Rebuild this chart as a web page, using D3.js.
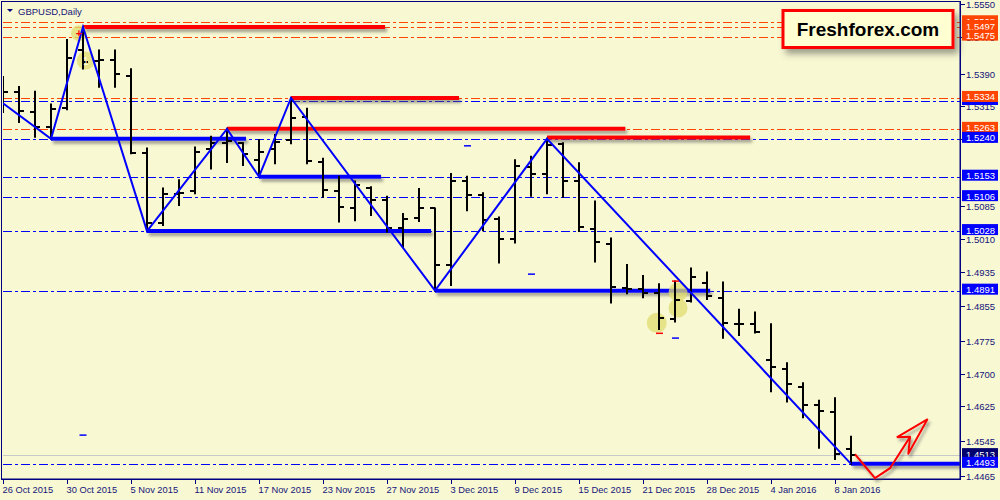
<!DOCTYPE html>
<html><head><meta charset="utf-8">
<script src="https://cdn.jsdelivr.net/npm/d3@7"></script>
<style>
html,body{margin:0;padding:0;background:#f8f8d2;}
svg{display:block;font-family:"Liberation Sans",Arial,sans-serif;}
</style></head>
<body><svg id="c" width="1000" height="500"></svg>
<script>
// ---------- DATA ----------
const dates = ["26 Oct 2015","27 Oct 2015","28 Oct 2015","29 Oct 2015","30 Oct 2015","2 Nov 2015","3 Nov 2015","4 Nov 2015","5 Nov 2015","6 Nov 2015","9 Nov 2015","10 Nov 2015","11 Nov 2015","12 Nov 2015","13 Nov 2015","16 Nov 2015","17 Nov 2015","18 Nov 2015","19 Nov 2015","20 Nov 2015","23 Nov 2015","24 Nov 2015","25 Nov 2015","26 Nov 2015","27 Nov 2015","30 Nov 2015","1 Dec 2015","2 Dec 2015","3 Dec 2015","4 Dec 2015","7 Dec 2015","8 Dec 2015","9 Dec 2015","10 Dec 2015","11 Dec 2015","14 Dec 2015","15 Dec 2015","16 Dec 2015","17 Dec 2015","18 Dec 2015","21 Dec 2015","22 Dec 2015","23 Dec 2015","24 Dec 2015","28 Dec 2015","29 Dec 2015","30 Dec 2015","31 Dec 2015","4 Jan 2016","5 Jan 2016","6 Jan 2016","7 Jan 2016","8 Jan 2016","11 Jan 2016"];
const open  = [1.5364,1.5348,1.5302,1.5267,1.5310,1.5444,1.5420,1.5421,1.5385,1.5207,1.5046,1.5113,1.5121,1.5216,1.5231,1.5230,1.5191,1.5217,1.5237,1.5291,1.5186,1.5121,1.5082,1.5126,1.5099,1.5034,1.5059,1.5080,1.4950,1.5143,1.5111,1.5055,1.5010,1.5176,1.5159,1.5228,1.5143,1.5033,1.4998,1.4898,1.4896,1.4885,1.4827,1.4868,1.4908,1.4875,1.4814,1.4814,1.4732,1.4711,1.4669,1.4628,1.4613,1.4527];
const high  = [1.5382,1.5359,1.5348,1.5319,1.5467,1.5497,1.5443,1.5443,1.5400,1.5218,1.5126,1.5145,1.5220,1.5245,1.5263,1.5230,1.5237,1.5249,1.5334,1.5309,1.5194,1.5153,1.5142,1.5129,1.5107,1.5067,1.5125,1.5080,1.5159,1.5153,1.5115,1.5059,1.5191,1.5199,1.5240,1.5230,1.5184,1.5096,1.5011,1.4950,1.4925,1.4906,1.4912,1.4942,1.4933,1.4910,1.4847,1.4841,1.4814,1.4724,1.4678,1.4638,1.4644,1.4555];
const low   = [1.5302,1.5279,1.5245,1.5240,1.5308,1.5402,1.5360,1.5360,1.5207,1.5028,1.5042,1.5088,1.5115,1.5172,1.5187,1.5180,1.5153,1.5184,1.5230,1.5184,1.5107,1.5050,1.5053,1.5065,1.5027,1.4992,1.5051,1.4891,1.4904,1.5076,1.5030,1.4956,1.5002,1.5109,1.5115,1.5107,1.5028,1.4958,1.4864,1.4885,1.4876,1.4803,1.4820,1.4866,1.4872,1.4783,1.4789,1.4795,1.4660,1.4636,1.4600,1.4530,1.4504,1.4493];
const close = [1.5348,1.5305,1.5268,1.5308,1.5425,1.5417,1.5421,1.5389,1.5208,1.5046,1.5113,1.5116,1.5210,1.5231,1.5235,1.5205,1.5210,1.5233,1.5289,1.5189,1.5122,1.5084,1.5134,1.5099,1.5034,1.5055,1.5080,1.4950,1.5142,1.5111,1.5053,1.5009,1.5178,1.5159,1.5227,1.5142,1.5038,1.5004,1.4900,1.4895,1.4886,1.4829,1.4870,1.4923,1.4879,1.4817,1.4815,1.4797,1.4716,1.4676,1.4628,1.4615,1.4515,1.4513];

const dateTickIdx = [0,4,8,12,16,20,24,28,32,36,40,44,48,52];
const priceTicks = [1.5550,1.5475,1.5390,1.5315,1.5240,1.5085,1.5010,1.4935,1.4855,1.4775,1.4700,1.4625,1.4545,1.4465];

// zigzag vertices [bar index, price]
const zigzag = [[0,1.5322],[3,1.5240],[5,1.5497],[9,1.5028],[14,1.5263],[16,1.5153],[18,1.5334],[27,1.4891],[34,1.5240],[53,1.4493]];
// thick level segments [from index, to index, price]
const redLevels  = [[5,23.88,1.5497],[18,28.5,1.5334],[14,38.9,1.5263],[34,46.7,1.5243]];
const blueLevels = [[3,15.19,1.5240],[16,23.63,1.5153],[9,26.75,1.5028],[27,44.2,1.4891],[53,59.8,1.4493]];
// horizontal dash-dot levels
const orangeLines = [1.5508,1.5497,1.5475,1.5334,1.5263];
const blueLines   = [1.5327,1.5240,1.5153,1.5106,1.5028,1.4891,1.4493];
const bidPrice = 1.4513;
// price label boxes in draw order [price, kind, label]
const labelBoxes = [[1.5508,"o","1.5508"],[1.5497,"o","1.5497"],[1.5475,"o","1.5475"],[1.5327,"b",""],[1.5334,"o","1.5334"],[1.5263,"o","1.5263"],[1.5240,"b","1.5240"],[1.5153,"b","1.5153"],[1.5106,"b","1.5106"],[1.5028,"b","1.5028"],[1.4891,"b","1.4891"],[1.4513,"n","1.4513"],[1.4493,"b","1.4493"]];
// highlight circles [index, price, radius]
const circles = [[4.75,1.5483,8],[5.17,1.5420,9],[40.86,1.4817,10],[42.19,1.4888,9.5],[42.19,1.4851,9.5]];
// small order marks [index, price, colour]
const marks = [[29.03,1.5224,"b"],[33.03,1.4929,"b"],[5,1.4559,"b"],[42.03,1.4782,"b"],[41.03,1.4793,"r"],[42.03,1.4913,"r"]];
// hand-drawn arrow [index, price]
const arrowShaft = [[53.25,1.4515],[54.5,1.4460],[55.44,1.4483],[56.69,1.4555]];
const arrowHead  = [[55.86,1.4554],[57.77,1.4595],[56.58,1.4516],[56.69,1.4555],[55.86,1.4554]];

// ---------- CHART ----------
const svg = d3.select("#c");
const L=3, R=960, T=4, B=476, AX=479;
const x = d3.scaleLinear().domain([0,(R-L)/16]).range([L,R]);
const y = d3.scaleLinear().domain([1.4465,1.5550]).range([B,T]);
const navy = "#000080", txt="#14147a";

const defs = svg.append("defs");
const f = defs.append("filter").attr("id","sh").attr("filterUnits","userSpaceOnUse")
  .attr("x",0).attr("y",0).attr("width",1000).attr("height",500);
f.append("feDropShadow").attr("dx",2).attr("dy",3).attr("stdDeviation",1.6).attr("flood-color","#555").attr("flood-opacity",0.55);
const f2 = defs.append("filter").attr("id","sh2").attr("filterUnits","userSpaceOnUse")
  .attr("x",0).attr("y",0).attr("width",1000).attr("height",500);
f2.append("feDropShadow").attr("dx",4).attr("dy",5).attr("stdDeviation",3).attr("flood-color","#444").attr("flood-opacity",0.5);
defs.append("clipPath").attr("id","clip").append("rect").attr("x",L).attr("y",2).attr("width",R-L).attr("height",AX-2);

svg.append("rect").attr("width",1000).attr("height",500).attr("fill","#f8f8d2");

const g = svg.append("g").attr("clip-path","url(#clip)");

// dash-dot levels
g.selectAll(".ol").data(orangeLines).join("line")
  .attr("x1",L).attr("x2",R).attr("y1",d=>Math.round(y(d))+0.5).attr("y2",d=>Math.round(y(d))+0.5)
  .attr("stroke","#ff4500").attr("stroke-width",1).attr("stroke-dasharray","9,3,3,3").attr("shape-rendering","crispEdges");
g.selectAll(".bl").data(blueLines).join("line")
  .attr("x1",L).attr("x2",R).attr("y1",d=>Math.round(y(d))+0.5).attr("y2",d=>Math.round(y(d))+0.5)
  .attr("stroke","#0000ff").attr("stroke-width",1).attr("stroke-dasharray","9,3,3,3").attr("shape-rendering","crispEdges");
g.append("line").attr("x1",L).attr("x2",R).attr("y1",Math.round(y(bidPrice))+0.5).attr("y2",Math.round(y(bidPrice))+0.5)
  .attr("stroke","#c8c8c8").attr("stroke-width",1);

// thick level segments
const lv = g.append("g").attr("filter","url(#sh)");
lv.selectAll(".rl").data(redLevels).join("line")
  .attr("x1",d=>x(d[0])).attr("x2",d=>x(d[1])).attr("y1",d=>y(d[2])).attr("y2",d=>y(d[2]))
  .attr("stroke","#ff0000").attr("stroke-width",4);
lv.selectAll(".blv").data(blueLevels).join("line")
  .attr("x1",d=>x(d[0])).attr("x2",d=>x(d[1])).attr("y1",d=>y(d[2])).attr("y2",d=>y(d[2]))
  .attr("stroke","#0000ff").attr("stroke-width",4);

// highlight circles
g.selectAll(".ci").data(circles).join("circle")
  .attr("cx",d=>x(d[0])).attr("cy",d=>y(d[1])).attr("r",d=>d[2])
  .attr("fill","#e0dc70").attr("fill-opacity",0.75);

// OHLC bars
const bars = g.append("g").attr("stroke","#000").attr("stroke-width",2);
dates.forEach((d,i)=>{
  const cx = Math.round(x(i));
  bars.append("line").attr("x1",cx).attr("x2",cx).attr("y1",y(high[i])-1).attr("y2",y(low[i])+1);
  bars.append("line").attr("x1",cx-5).attr("x2",cx).attr("y1",Math.round(y(open[i]))).attr("y2",Math.round(y(open[i])));
  bars.append("line").attr("x1",cx).attr("x2",cx+5).attr("y1",Math.round(y(close[i]))).attr("y2",Math.round(y(close[i])));
});

// zigzag
g.append("path").datum(zigzag)
  .attr("d",d3.line().x(d=>x(d[0])).y(d=>y(d[1])))
  .attr("fill","none").attr("stroke","#0000ff").attr("stroke-width",2);

// small marks
g.selectAll(".mk").data(marks).join("line")
  .attr("x1",d=>x(d[0])-3.5).attr("x2",d=>x(d[0])+3.5).attr("y1",d=>y(d[1])).attr("y2",d=>y(d[1]))
  .attr("stroke",d=>d[2]==="r"?"#ff0000":"#0000ff").attr("stroke-width",1.5);

// markers inside circles
g.append("text").attr("x",x(circles[0][0])).attr("y",y(circles[0][1])+4).attr("text-anchor","middle")
  .attr("font-size",11).attr("font-weight","bold").attr("fill","#ff0000").text("+");
g.append("text").attr("x",x(circles[1][0])).attr("y",y(circles[1][1])+4).attr("text-anchor","middle")
  .attr("font-size",10).attr("fill","#fffbe0").text("1");

// frame & axes
svg.append("rect").attr("x",1.5).attr("y",1.5).attr("width",R-1.5).attr("height",AX-1.5)
  .attr("fill","none").attr("stroke",navy).attr("stroke-width",1);
svg.append("line").attr("x1",R+0.5).attr("x2",R+0.5).attr("y1",1).attr("y2",AX+1).attr("stroke",navy);
svg.append("line").attr("x1",1).attr("x2",R+1).attr("y1",AX+0.5).attr("y2",AX+0.5).attr("stroke",navy);

// x axis ticks & labels
const xa = svg.append("g");
dateTickIdx.forEach(i=>{
  const cx = Math.round(x(i))+0.5;
  xa.append("line").attr("x1",cx).attr("x2",cx).attr("y1",AX).attr("y2",AX+5).attr("stroke",navy);
  xa.append("text").attr("x",cx-1).attr("y",493).attr("font-size",9.3).attr("fill",txt).text(dates[i]);
});

// red hand-drawn arrow (drawn over the axis line like the reference)
const al = d3.line().x(d=>x(d[0])).y(d=>y(d[1]));
const ar = svg.append("g").attr("filter","url(#sh)");
ar.append("path").datum(arrowShaft).attr("d",al).attr("fill","none").attr("stroke","#ff0000").attr("stroke-width",2);
ar.append("path").datum(arrowHead).attr("d",al).attr("fill","none").attr("stroke","#ff0000").attr("stroke-width",2).attr("stroke-linejoin","round");

// y axis ticks & labels
const ya = svg.append("g");
priceTicks.forEach(p=>{
  const py = Math.round(y(p))+0.5;
  ya.append("line").attr("x1",R).attr("x2",R+5).attr("y1",py).attr("y2",py).attr("stroke",navy);
  ya.append("text").attr("x",966).attr("y",py+3.5).attr("font-size",9.5).attr("fill",txt).text(d3.format(".4f")(p));
});

// price label boxes
const colors = {o:"#ff4500",b:"#0000ff",n:"#00006e"};
labelBoxes.forEach(([p,k,lab])=>{
  const py = y(p);
  ya.append("rect").attr("x",962).attr("y",py-7).attr("width",36).attr("height",11).attr("fill",colors[k]);
  if(lab) ya.append("text").attr("x",966).attr("y",py+2.5).attr("font-size",9.5).attr("fill","#fff").text(lab);
});

// title
svg.append("path").attr("d","M7,9 L13,9 L10,12 Z").attr("fill",navy);
svg.append("text").attr("x",18).attr("y",15).attr("font-size",9.5).attr("fill",txt).text("GBPUSD,Daily");

// logo
const lg = svg.append("g");
lg.append("rect").attr("x",783).attr("y",10.5).attr("width",170).attr("height",37).attr("fill","#ffffd2")
  .attr("stroke","#ff0000").attr("stroke-width",3).attr("filter","url(#sh2)");
lg.append("text").attr("x",868).attr("y",36).attr("text-anchor","middle").attr("font-size",19).attr("font-weight","bold")
  .attr("font-family","'Liberation Sans',Arial,sans-serif").attr("fill","#000").text("Freshforex.com");
</script></body></html>
